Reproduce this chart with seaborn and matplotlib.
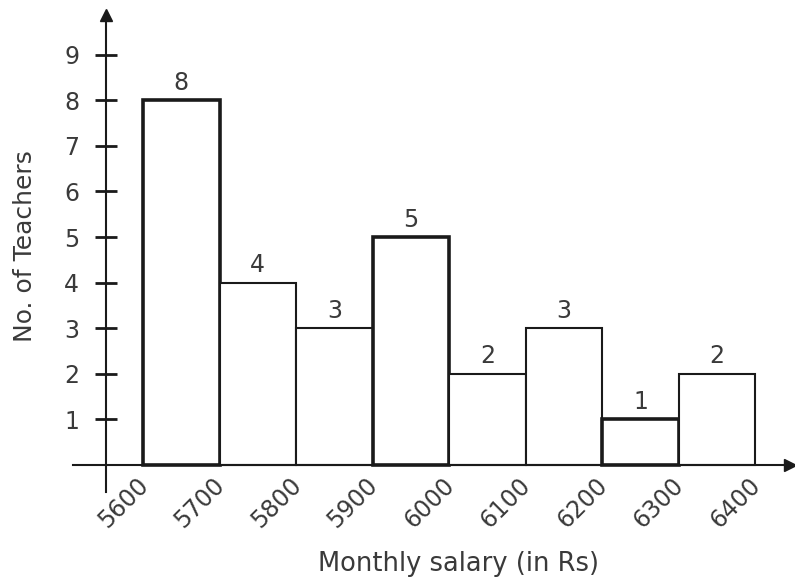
import matplotlib
matplotlib.use("Agg")
import matplotlib.pyplot as plt
import matplotlib.transforms as mtransforms
import seaborn as sns

bin_edges = [5600, 5700, 5800, 5900, 6000, 6100, 6200, 6300, 6400]
teachers = [8, 4, 3, 5, 2, 3, 1, 2]
y_ticks = [1, 2, 3, 4, 5, 6, 7, 8, 9]
mid_points = [(a + b) / 2 for a, b in zip(bin_edges[:-1], bin_edges[1:])]

TEXT = "#3a3a3a"
LINE = "#1a1a1a"

sns.set_style("white")
plt.rcParams["font.family"] = ["DejaVu Sans"]

fig = plt.figure(figsize=(7.95, 5.84), dpi=100)
ax = fig.add_axes([0, 0, 1, 1])

sns.histplot(x=mid_points, weights=teachers, bins=bin_edges, ax=ax,
             color="white", edgecolor=LINE, linewidth=1.5, alpha=1)
bars = ax.containers[0]
for i, patch in enumerate(bars):
    if i in (0, 3, 6):
        patch.set_linewidth(2.6)
ax.bar_label(bars, labels=[str(v) for v in teachers], padding=4,
             fontsize=17, color=TEXT)

ax.set_xlim(5413, 6452)
ax.set_ylim(-2.61, 10.2)

# axis lines crossing at (5551, 0)
for side in ("top", "right"):
    ax.spines[side].set_visible(False)
ax.spines["left"].set_position(("data", 5551))
ax.spines["left"].set_bounds(-0.59, 9.9)
ax.spines["bottom"].set_position(("data", 0))
ax.spines["bottom"].set_bounds(5508, 6445)
for side in ("left", "bottom"):
    ax.spines[side].set_color(LINE)
    ax.spines[side].set_linewidth(1.5)
ax.plot([5551], [9.87], marker="^", color=LINE, markersize=8, clip_on=False)
ax.plot([6446], [0], marker=">", color=LINE, markersize=8, clip_on=False)

ax.set_yticks(y_ticks)
ax.set_yticklabels([str(t) for t in y_ticks])
ax.tick_params(axis="y", left=True, direction="inout", length=16, width=2,
               color=LINE, pad=11, labelsize=17, labelcolor=TEXT)
ax.set_xticks(bin_edges)
ax.set_xticklabels([str(e) for e in bin_edges], rotation=45, ha="right", va="top")
ax.tick_params(axis="x", bottom=False, length=0, pad=6, labelsize=17,
               labelcolor=TEXT)
offset = mtransforms.ScaledTranslation(10 / 100, 0, fig.dpi_scale_trans)
for lbl in ax.get_xticklabels():
    lbl.set_transform(lbl.get_transform() + offset)

ax.set_xlabel("Monthly salary (in Rs)", fontsize=18.5, color=TEXT)
ax.set_ylabel("No. of Teachers", fontsize=18, color=TEXT)
ax.xaxis.set_label_coords(459 / 795, 1 - 564 / 584)
ax.yaxis.set_label_coords(25 / 795, 1 - 246 / 584)
ax.xaxis.label.set_va("center")
ax.yaxis.label.set_va("center")

fig.savefig("out.png", dpi=100, facecolor="white")
